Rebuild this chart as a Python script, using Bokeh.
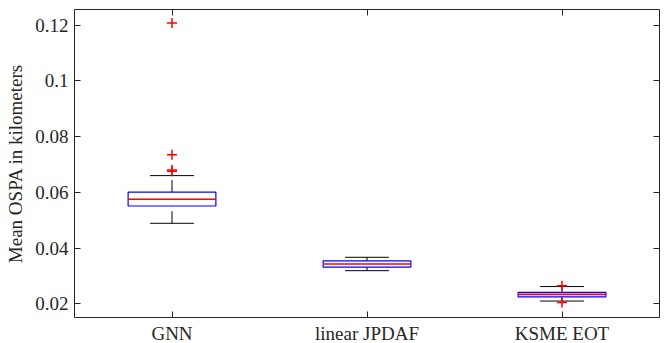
from bokeh.plotting import figure
from bokeh.models import LinearAxis, FixedTicker, Range1d, ColumnDataSource
from bokeh.embed import file_html
from bokeh.resources import INLINE

categories = ["GNN", "linear JPDAF", "KSME EOT"]
q1 = [0.0551, 0.0332, 0.0225]
median = [0.0575, 0.0343, 0.0234]
q3 = [0.0601, 0.0354, 0.0241]
lower_whisker = [0.0489, 0.0319, 0.0210]
upper_whisker = [0.0660, 0.0367, 0.0262]
outlier_group = ["GNN", "GNN", "GNN", "GNN", "KSME EOT", "KSME EOT"]
outlier_values = [0.1208, 0.0735, 0.0680, 0.0676, 0.0265, 0.0205]
y_ticks = [0.02, 0.04, 0.06, 0.08, 0.1, 0.12]
y_tick_labels = ["0.02", "0.04", "0.06", "0.08", "0.1", "0.12"]

FONT = "Liberation Serif"
TXT = "#262626"
FS = "19px"

xpos = [i + 1 for i in range(len(categories))]
box_w = 0.45
cap_w = 0.225

src = ColumnDataSource(dict(
    x=xpos, q1=q1, med=median, q3=q3, lo=lower_whisker, hi=upper_whisker,
    xl=[x - box_w / 2 for x in xpos], xr=[x + box_w / 2 for x in xpos],
    cl=[x - cap_w / 2 for x in xpos], cr=[x + cap_w / 2 for x in xpos],
))

p = figure(frame_width=585, frame_height=308, output_backend="svg", toolbar_location=None,
           x_range=Range1d(0.5, 3.5), y_range=Range1d(0.0151, 0.1256),
           min_border_left=74, min_border_right=5, min_border_top=9, min_border_bottom=24)
p.grid.visible = False
p.outline_line_color = None
p.background_fill_color = "white"
p.border_fill_color = "white"

# whiskers (dashed)
p.segment(x0="x", y0="q3", x1="x", y1="hi", source=src, line_color="black",
          line_width=1, line_dash="12 5")
p.segment(x0="x", y0="lo", x1="x", y1="q1", source=src, line_color="black",
          line_width=1, line_dash="12 5")
# caps
p.segment(x0="cl", y0="hi", x1="cr", y1="hi", source=src, line_color="black", line_width=1)
p.segment(x0="cl", y0="lo", x1="cr", y1="lo", source=src, line_color="black", line_width=1)
# boxes
p.quad(left="xl", right="xr", bottom="q1", top="q3", source=src,
       fill_color=None, line_color="#0000FF", line_width=1.2)
# medians
p.segment(x0="xl", y0="med", x1="xr", y1="med", source=src, line_color="#FF0000", line_width=1.6)
# outliers
ox = [xpos[categories.index(g)] for g in outlier_group]
p.scatter(ox, outlier_values, marker="cross", size=10, line_color="#FF0000", line_width=1.5)

def style(ax):
    ax.axis_line_color = TXT
    ax.axis_line_width = 1
    ax.major_tick_line_color = TXT
    ax.major_tick_in = 6
    ax.major_tick_out = 0
    ax.minor_tick_line_color = None
    ax.major_label_text_font = FONT
    ax.major_label_text_font_size = FS
    ax.major_label_text_color = TXT
    ax.axis_label_text_font = FONT
    ax.axis_label_text_font_size = FS
    ax.axis_label_text_color = TXT
    ax.axis_label_text_font_style = "normal"

p.xaxis.ticker = FixedTicker(ticks=xpos)
p.xaxis.major_label_overrides = {x: c for x, c in zip(xpos, categories)}
p.yaxis.ticker = FixedTicker(ticks=y_ticks)
p.yaxis.major_label_overrides = {t: l for t, l in zip(y_ticks, y_tick_labels)}
p.yaxis.axis_label = "Mean OSPA in kilometers"
style(p.xaxis[0])
style(p.yaxis[0])
p.xaxis.major_label_standoff = 5
p.yaxis.major_label_standoff = 6
p.yaxis.axis_label_standoff = 6

top = LinearAxis(ticker=FixedTicker(ticks=xpos),
                 major_label_overrides={x: "" for x in xpos})
right = LinearAxis(ticker=FixedTicker(ticks=y_ticks),
                   major_label_overrides={t: "" for t in y_ticks})
style(top)
style(right)
top.major_label_standoff = 0
right.major_label_standoff = 0
p.add_layout(top, "above")
p.add_layout(right, "right")

open("out.html", "w").write(file_html(p, INLINE))
